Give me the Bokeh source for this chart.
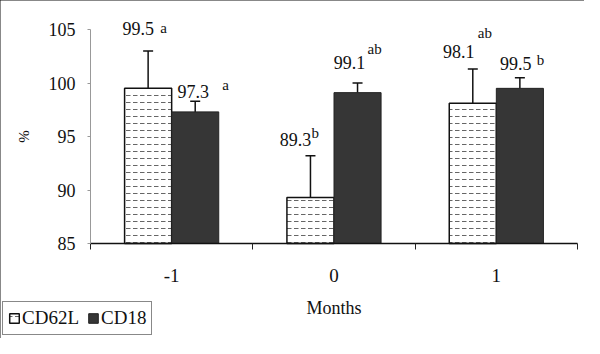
from bokeh.plotting import figure
from bokeh.models import (ColumnDataSource, FixedTicker, Whisker, TeeHead, Legend,
                          LegendItem, LabelSet)
from bokeh.embed import file_html
from bokeh.resources import INLINE

# ---- data ----
months = ["-1", "0", "1"]
cd62l = [99.5, 89.3, 98.1]
cd18 = [97.3, 99.1, 99.5]
cd62l_err_top = [103.0, 93.2, 101.3]
cd18_err_top = [98.3, 100.0, 100.5]
cd62l_letters = ["a", "b", "ab"]
cd18_letters = ["a", "ab", "b"]
y_ticks = [85, 90, 95, 100, 105]

FONT = "Liberation Serif"
W = 0.29
FIG_W, FIG_H = 584, 338
AX_L, AX_R, AX_T, AX_B = 90, 577, 29, 243   # pixel box of the axes area

n = len(months)
y0, y1 = y_ticks[0], y_ticks[-1]
xppu = (AX_R - AX_L) / n
yppu = (AX_B - AX_T) / (y1 - y0)
x_range = (-AX_L / xppu, n + (FIG_W - AX_R) / xppu)
y_range = (y0 - (FIG_H - AX_B) / yppu, y1 + AX_T / yppu)

centers = [i + 0.5 for i in range(n)]
x62 = [c - W / 2 for c in centers]
x18 = [c + W / 2 for c in centers]

p = figure(width=FIG_W, height=FIG_H, output_backend="svg", toolbar_location=None,
           x_range=x_range, y_range=y_range, min_border=0,
           styles={"outline": "2px solid #111", "outline-offset": "-2px"})
p.outline_line_color = None
p.grid.grid_line_color = None
p.background_fill_color = "white"

src62 = ColumnDataSource(dict(x=x62, top=cd62l, hi=cd62l_err_top))
src18 = ColumnDataSource(dict(x=x18, top=cd18, hi=cd18_err_top))

r62 = p.vbar(x="x", top="top", bottom=y0, width=W, source=src62,
             fill_color="white", line_color="#111", line_width=1.5,
             hatch_pattern='"', hatch_color="#666", hatch_scale=7, hatch_weight=1)
r18 = p.vbar(x="x", top="top", bottom=y0, width=W, source=src18,
             fill_color="#363636", line_color="#222", line_width=1)

for s in (src62, src18):
    w = Whisker(source=s, base="x", upper="hi", lower="top", dimension="height",
                line_color="#111", line_width=1.5,
                upper_head=TeeHead(size=10, line_color="#111", line_width=1.5),
                lower_head=None)
    p.add_layout(w)

# value labels with superscript letters (layout offsets in px)
xs = [x62[0], x18[0], x62[1], x18[1], x62[2], x18[2]]
his = [cd62l_err_top[0], cd18_err_top[0], cd62l_err_top[1], cd18_err_top[1],
       cd62l_err_top[2], cd18_err_top[2]]
vals = [cd62l[0], cd18[0], cd62l[1], cd18[1], cd62l[2], cd18[2]]
letters = [cd62l_letters[0], cd18_letters[0], cd62l_letters[1], cd18_letters[1],
           cd62l_letters[2], cd18_letters[2]]
dx = [-10, -2, -15, -8, -14, -4]
dy = [22, 10, 16, 21, 18, 14]
sdx = [22, 29, 16, 18, 19, 21]
sdy = [1, 6, 7, 13, 18, 4]

lab_src = ColumnDataSource(dict(
    x=xs, y=his, text=[f"{v:.1f}" for v in vals], xo=dx, yo=dy,
    sup=letters, sxo=[a + b for a, b in zip(dx, sdx)], syo=[a + b for a, b in zip(dy, sdy)]))
p.add_layout(LabelSet(x="x", y="y", text="text", x_offset="xo", y_offset="yo",
                      source=lab_src, text_align="center", text_baseline="middle",
                      text_font=FONT, text_font_size="18px", text_color="#111"))
p.add_layout(LabelSet(x="x", y="y", text="sup", x_offset="sxo", y_offset="syo",
                      source=lab_src, text_align="left", text_baseline="middle",
                      text_font=FONT, text_font_size="15px", text_color="#111"))

# axes drawn inside the frame at fixed data locations
xa = p.xaxis[0]
xa.fixed_location = y0
xa.bounds = (0, n)
xa.ticker = FixedTicker(ticks=centers, minor_ticks=list(range(n + 1)))
xa.major_label_overrides = {c: m for c, m in zip(centers, months)}
xa.major_tick_line_color = None
xa.minor_tick_in = 0
xa.minor_tick_out = 6
xa.minor_tick_line_color = "#222"
xa.axis_line_color = "#111"
xa.axis_line_width = 1.5
xa.major_label_standoff = 19
xa.major_label_text_font = FONT
xa.major_label_text_font_size = "19px"
xa.major_label_text_color = "#111"
xa.axis_label = "Months"
xa.axis_label_text_font = FONT
xa.axis_label_text_font_style = "normal"
xa.axis_label_text_font_size = "18px"
xa.axis_label_text_color = "#111"
xa.axis_label_standoff = 13

ya = p.yaxis[0]
ya.fixed_location = 0
ya.bounds = (y0, y1)
ya.ticker = FixedTicker(ticks=y_ticks, minor_ticks=[])
ya.axis_line_color = "#999"
ya.major_tick_in = 0
ya.major_tick_out = 3
ya.major_tick_line_color = "#999"
ya.major_label_standoff = 12
ya.major_label_text_font = FONT
ya.major_label_text_font_size = "18px"
ya.major_label_text_color = "#111"
ya.axis_label = "%"
ya.axis_label_text_font = FONT
ya.axis_label_text_font_style = "normal"
ya.axis_label_text_font_size = "15px"
ya.axis_label_text_color = "#111"
ya.axis_label_standoff = 14

legend = Legend(items=[LegendItem(label="CD62L", renderers=[r62]),
                       LegendItem(label="CD18", renderers=[r18])],
                location=(2, 3), orientation="horizontal",
                label_text_font=FONT, label_text_font_size="19px", label_text_color="#111",
                border_line_color="#111", border_line_width=1.5,
                glyph_width=12, glyph_height=12, label_standoff=2, spacing=8,
                padding=5, margin=0, background_fill_alpha=1)
p.add_layout(legend, "center")

open("out.html", "w").write(file_html(p, INLINE))
